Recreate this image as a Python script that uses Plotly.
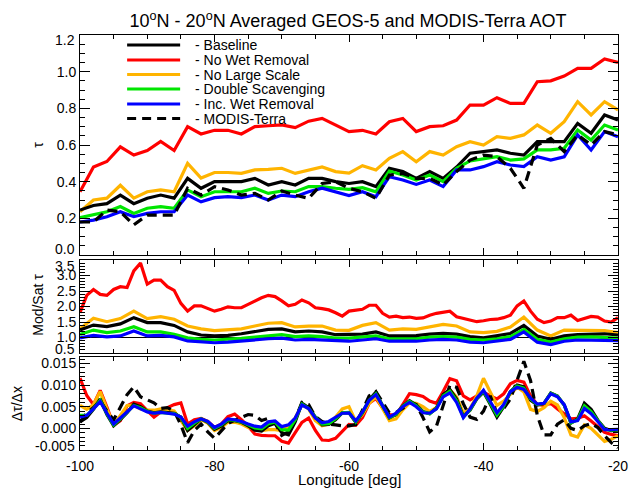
import plotly.graph_objects as go
from plotly.subplots import make_subplots

# ---------------- data ----------------
lon2 = list(range(-100, -19, 2))   # 2-degree grid (41 pts)
lon1 = list(range(-100, -19, 1))   # 1-degree grid (81 pts)

series_names = ["Baseline", "No Wet Removal", "No Large Scale",
                "Double Scavenging", "Inc. Wet Removal", "MODIS-Terra"]

# Top panel: AOT (tau) on lon2
tau_baseline = [0.245, 0.27, 0.28, 0.327, 0.28, 0.31, 0.327, 0.31, 0.418, 0.364, 0.40,
                0.40, 0.40, 0.418, 0.382, 0.40, 0.382, 0.418, 0.418, 0.40, 0.39,
                0.40, 0.373, 0.473, 0.455, 0.418, 0.455, 0.418, 0.48, 0.555, 0.564,
                0.573, 0.555, 0.545, 0.618, 0.618, 0.618, 0.718, 0.664, 0.764, 0.736]
tau_nowet = [0.345, 0.48, 0.51, 0.59, 0.545, 0.57, 0.62, 0.57, 0.70, 0.66, 0.68,
             0.68, 0.66, 0.70, 0.705, 0.71, 0.695, 0.73, 0.745, 0.71, 0.673,
             0.68, 0.66, 0.727, 0.745, 0.673, 0.70, 0.705, 0.736, 0.818, 0.818,
             0.858, 0.827, 0.827, 0.945, 0.95, 0.976, 1.018, 1.018, 1.069, 1.05]
tau_nolarge = [0.236, 0.30, 0.31, 0.38, 0.31, 0.345, 0.355, 0.345, 0.50, 0.42, 0.45,
               0.45, 0.445, 0.464, 0.467, 0.473, 0.445, 0.464, 0.48, 0.455, 0.447,
               0.487, 0.464, 0.527, 0.564, 0.509, 0.564, 0.545, 0.591, 0.618, 0.60,
               0.645, 0.636, 0.655, 0.709, 0.664, 0.727, 0.836, 0.764, 0.836, 0.791]
tau_double = [0.204, 0.218, 0.236, 0.264, 0.227, 0.255, 0.264, 0.255, 0.355, 0.318, 0.345,
              0.345, 0.345, 0.364, 0.336, 0.349, 0.345, 0.373, 0.373, 0.364, 0.358,
              0.367, 0.345, 0.458, 0.436, 0.409, 0.436, 0.40, 0.473, 0.513, 0.524,
              0.536, 0.518, 0.524, 0.573, 0.573, 0.582, 0.682, 0.627, 0.709, 0.682]
tau_incwet = [0.18, 0.19, 0.209, 0.236, 0.209, 0.227, 0.236, 0.236, 0.327, 0.29, 0.313,
              0.318, 0.313, 0.327, 0.30, 0.327, 0.318, 0.345, 0.364, 0.345, 0.324,
              0.345, 0.318, 0.427, 0.409, 0.385, 0.409, 0.373, 0.464, 0.464, 0.482,
              0.509, 0.491, 0.482, 0.536, 0.518, 0.536, 0.655, 0.573, 0.673, 0.645]
tau_modis = [0.18, 0.18, 0.245, 0.236, 0.164, 0.218, 0.218, 0.218, 0.364, 0.327, 0.373,
             0.355, 0.327, 0.336, 0.30, 0.349, 0.327, 0.309, 0.39, 0.40, 0.364,
             0.345, 0.309, 0.436, 0.445, 0.418, 0.418, 0.382, 0.455, 0.518, 0.545,
             0.536, 0.473, 0.364, 0.60, 0.636, 0.564, 0.655, 0.60, 0.673, 0.655]

# Middle panel: model / satellite ratio (red on lon1, others on lon2)
ratio_nowet = [1.80, 2.36, 2.55, 2.39, 2.36, 2.55, 2.64, 2.61, 3.15, 3.40,
               2.72, 2.85, 2.85, 2.64, 2.52, 2.10, 1.85, 2.02, 2.02, 1.94,
               1.85, 1.91, 1.99, 1.96, 1.96, 2.07, 2.18, 2.28, 2.36, 2.32,
               2.18, 2.02, 2.07, 2.21, 2.12, 1.96, 1.93, 1.89, 1.80, 1.69,
               1.85, 1.89, 1.91, 2.04, 2.04, 1.78, 1.66, 1.69, 1.64, 1.66,
               1.62, 1.63, 1.72, 1.78, 1.82, 1.85, 1.67, 1.61, 1.55, 1.51,
               1.54, 1.58, 1.59, 1.64, 1.72, 2.02, 2.18, 1.85, 1.59, 1.48,
               1.53, 1.64, 1.64, 1.72, 1.55, 1.61, 1.68, 1.66, 1.53, 1.50, 1.64]
ratio_nolarge = [1.28, 1.62, 1.51, 1.61, 1.85, 1.61, 1.67, 1.59, 1.37, 1.28, 1.22,
                 1.24, 1.28, 1.37, 1.46, 1.48, 1.34, 1.37, 1.37, 1.24, 1.23,
                 1.39, 1.48, 1.24, 1.28, 1.26, 1.33, 1.42, 1.37, 1.18, 1.16,
                 1.20, 1.34, 1.66, 1.24, 1.05, 1.24, 1.24, 1.24, 1.22, 1.16]
ratio_baseline = [1.24, 1.40, 1.35, 1.44, 1.64, 1.48, 1.48, 1.39, 1.18, 1.08, 1.05,
                  1.07, 1.12, 1.18, 1.26, 1.28, 1.18, 1.21, 1.18, 1.09, 1.09,
                  1.11, 1.18, 1.05, 1.05, 1.06, 1.11, 1.13, 1.11, 1.03, 0.99,
                  1.05, 1.13, 1.39, 1.05, 0.94, 1.05, 1.09, 1.11, 1.12, 1.08]
ratio_double = [1.10, 1.24, 1.16, 1.21, 1.35, 1.18, 1.18, 1.10, 0.99, 0.94, 0.92,
                0.94, 0.97, 1.01, 1.05, 1.09, 1.03, 1.05, 1.03, 0.98, 0.98,
                1.02, 1.05, 0.96, 0.96, 0.96, 1.01, 1.03, 1.01, 0.94, 0.92,
                0.96, 1.03, 1.26, 0.94, 0.85, 0.96, 1.01, 1.02, 1.01, 0.98]
ratio_incwet = [0.99, 1.07, 1.02, 1.05, 1.21, 1.05, 1.07, 1.02, 0.89, 0.85, 0.83,
                0.85, 0.89, 0.92, 0.96, 0.98, 0.92, 0.94, 0.92, 0.89, 0.88,
                0.92, 0.96, 0.88, 0.88, 0.88, 0.92, 0.94, 0.92, 0.85, 0.83,
                0.88, 0.94, 1.18, 0.85, 0.77, 0.88, 0.92, 0.92, 0.92, 0.90]

# Bottom panel: d(tau)/dx on lon1, in units of 1e-3 per degree
dtdx_baseline = [1.5, 2.5, 4.4, 6.8, 3.2, 0.6, 2.0, 3.6, 5.6, 5.0,
                 4.0, 3.6, 3.8, 3.6, 3.5, 2.6, -0.5, 0.8, 2.2, 1.4,
                 -0.2, 0.5, 1.8, 1.8, 1.4, 0.6, -0.4, -0.6, 0.6, 1.2,
                 -1.0, -1.5, 1.5, 5.8, 4.8, 2.6, 0.8, 0.9, 2.0, 3.6,
                 3.6, 1.4, 3.6, 6.6, 8.4, 5.2, 2.4, 3.2, 5.2, 6.4,
                 5.4, 3.9, 3.4, 4.7, 7.8, 9.0, 6.8, 2.8, 4.2, 6.8,
                 8.4, 5.6, 2.6, 5.0, 8.5, 10.0, 9.6, 6.5, 5.4, 5.8,
                 8.2, 7.5, 5.4, 1.2, 2.2, 5.8, 4.4, 1.9, 0.0, -0.5, -0.4]
dtdx_nowet = [11.6, 7.6, 5.5, 8.8, 4.9, 0.7, 1.8, 5.2, 6.0, 5.7,
              4.1, 2.6, 3.8, 4.8, 5.5, 5.9, 1.0, 2.0, 2.3, 1.6,
              0.2, 1.0, 2.7, 3.3, 2.0, 0.5, -1.3, -1.6, -1.7, -1.7,
              -3.0, -3.4, -1.0, 1.4, 2.4, -0.5, -2.7, -2.8, -2.3, -0.8,
              0.9, 0.7, 2.5, 5.8, 6.9, 4.7, 3.2, 3.0, 5.5, 8.0,
              7.8, 7.4, 6.3, 5.8, 8.5, 11.5, 11.0, 7.5, 6.6, 7.5,
              8.4, 7.5, 6.8, 8.0, 10.3, 11.1, 10.7, 7.5, 5.5, 5.3,
              5.8, 4.5, 3.3, 2.2, 2.3, 2.9, 1.7, 0.3, -0.9, -1.4, -1.7]
dtdx_nolarge = [5.3, 4.4, 5.5, 8.5, 4.5, 0.8, 3.0, 5.3, 5.4, 4.5,
                4.2, 4.2, 4.5, 4.3, 4.0, 1.8, -0.5, 0.6, 2.0, 1.2,
                -0.5, 0.2, 1.4, 1.4, 1.0, 0.2, -0.2, -0.5, -0.3, -0.3,
                -0.5, 0.4, 2.4, 5.5, 4.5, 1.8, 0.6, 1.0, 2.6, 4.5,
                5.0, 1.6, 3.2, 5.8, 7.3, 4.5, 1.8, 2.2, 4.3, 5.9,
                5.8, 5.0, 3.9, 4.8, 7.4, 8.9, 7.3, 3.6, 4.6, 7.5,
                11.6, 8.4, 5.3, 6.3, 8.0, 9.5, 8.4, 4.4, 3.9, 4.8,
                6.3, 5.4, 2.5, -1.5, -2.0, 0.8, 0.0, -1.5, -3.0, -2.5, -1.7]
dtdx_double = [3.0, 3.0, 4.5, 6.5, 3.4, 0.8, 2.2, 3.7, 5.3, 4.8,
               3.9, 3.5, 3.7, 3.5, 3.4, 2.6, 0.0, 1.2, 2.2, 1.5,
               0.0, 0.8, 2.0, 1.9, 1.5, 0.8, 0.1, -0.1, 1.1, 1.5,
               -0.3, -0.4, 2.0, 5.6, 4.6, 2.6, 1.0, 1.1, 2.2, 3.6,
               3.7, 1.5, 3.7, 6.5, 8.0, 5.2, 2.5, 3.3, 5.1, 6.2,
               5.2, 3.8, 3.4, 4.6, 7.5, 8.6, 6.4, 2.6, 4.3, 6.9,
               8.6, 5.9, 3.1, 5.2, 8.5, 9.8, 9.3, 6.8, 5.5, 5.8,
               8.1, 7.4, 5.4, 1.3, 2.0, 5.2, 3.9, 1.8, -0.2, -0.4, -0.3]
dtdx_incwet = [2.6, 3.0, 4.5, 6.2, 3.5, 1.0, 2.4, 3.8, 5.2, 4.5,
               3.8, 3.5, 3.7, 3.5, 3.3, 2.6, 0.5, 1.5, 2.2, 1.6,
               0.2, 1.0, 2.2, 2.0, 1.6, 1.0, 0.5, 0.3, 1.5, 1.7,
               0.4, 0.8, 2.4, 5.4, 4.6, 2.4, 1.3, 1.6, 2.5, 3.5,
               3.6, 1.7, 3.8, 6.5, 7.8, 5.2, 2.6, 3.5, 5.0, 6.0,
               5.0, 3.6, 3.5, 4.5, 7.3, 8.2, 6.0, 2.5, 4.5, 7.0,
               8.8, 6.2, 3.6, 5.5, 8.5, 9.5, 9.0, 7.0, 5.6, 5.8,
               8.0, 7.3, 5.5, 1.5, 1.8, 4.6, 3.4, 1.6, -0.3, -0.3, -0.2]
dtdx_modis = [1.4, 3.6, 4.8, 6.4, 4.0, 2.0, 4.9, 7.8, 9.6, 7.3,
              6.6, 5.9, 4.6, 4.8, 4.0, 0.8, -3.3, -0.5, 1.0, -0.8,
              -2.3, -0.6, 1.1, 1.9, 2.5, 3.2, 3.0, 1.8, 2.3, 1.2,
              -1.6, -0.8, 2.1, 6.0, 5.5, 2.7, 1.6, 1.0, 0.8, 0.6,
              0.6, 0.9, 4.2, 7.5, 8.5, 6.1, 3.6, 3.7, 4.6, 6.0,
              5.5, 2.5, -0.8, 0.5, 5.5, 10.0, 9.5, 5.7, 2.6, 2.1,
              4.0, 7.5, 3.5, 4.6, 6.8, 11.2, 15.5, 11.0, 3.0, -1.5,
              -1.5, 1.0, 2.0, 0.0, -0.5, 0.6, 1.1, 0.2, -1.7, -3.3, -4.5]

# tick labels
tau_ticks = [0.2, 0.4, 0.6, 0.8, 1.0]
ratio_ticks = [1.0, 1.5, 2.0, 2.5, 3.0]
dtdx_ticks = [0.0, 0.005, 0.010, 0.015]
lon_ticks = [-100, -80, -60, -40, -20]
# labels at the ends of each y-axis (nudged inside the frame, as in the original)
end_labels = [("1.2", 39.5), ("0.0", 248.5), ("3.5", 265.5), ("0.5", 348.5), ("-0.005", 446.0)]

# ---------------- styles ----------------
C_BLACK, C_RED, C_ORANGE, C_GREEN, C_BLUE = "#000000", "#ff0000", "#ffb400", "#00e600", "#0000ff"
LW = 3.2
FONT = "Liberation Sans, Arial, Helvetica, sans-serif"

fig = make_subplots(rows=3, cols=1, shared_xaxes=True, vertical_spacing=0.01)

def add(x, y, color, row, dash="solid", scale=1.0):
    fig.add_trace(go.Scatter(x=x, y=[v * scale for v in y], mode="lines",
                             line=dict(color=color, width=LW, dash=dash),
                             showlegend=False, hoverinfo="skip"), row=row, col=1)

# top
add(lon2, tau_nowet, C_RED, 1)
add(lon2, tau_nolarge, C_ORANGE, 1)
add(lon2, tau_baseline, C_BLACK, 1)
add(lon2, tau_double, C_GREEN, 1)
add(lon2, tau_incwet, C_BLUE, 1)
add(lon2, tau_modis, C_BLACK, 1, dash="10px,6px")
# middle
add(lon1, ratio_nowet, C_RED, 2)
add(lon2, ratio_nolarge, C_ORANGE, 2)
add(lon2, ratio_baseline, C_BLACK, 2)
add(lon2, ratio_double, C_GREEN, 2)
add(lon2, ratio_incwet, C_BLUE, 2)
# bottom
add(lon1, dtdx_nowet, C_RED, 3, scale=1e-3)
add(lon1, dtdx_nolarge, C_ORANGE, 3, scale=1e-3)
add(lon1, dtdx_baseline, C_BLACK, 3, scale=1e-3)
add(lon1, dtdx_modis, C_BLACK, 3, dash="10px,6px", scale=1e-3)
add(lon1, dtdx_double, C_GREEN, 3, scale=1e-3)
add(lon1, dtdx_incwet, C_BLUE, 3, scale=1e-3)

W, H = 638, 489
L, R, T, B = 80, 10, 35, 39
PH = H - T - B  # 415
PW = W - L - R  # 548

def py2paper(py):
    return (H - B - py) / PH

def px2paper(px):
    return (px - L) / PW

TICKFONT = dict(family=FONT, size=14, color="black")
axis_common = dict(showline=True, linecolor="black", linewidth=1, mirror="ticks",
                   ticks="inside", tickcolor="black", showgrid=False, zeroline=False,
                   tickfont=TICKFONT, ticklabeloverflow="allow")

xcommon = dict(axis_common, range=[-100, -20], tickmode="array", tickvals=lon_ticks,
               ticktext=[str(v) for v in lon_ticks], ticklen=7,
               minor=dict(dtick=5, tick0=-100, ticks="inside", ticklen=4, tickcolor="black"))
fig.update_xaxes(**xcommon)
fig.update_xaxes(showticklabels=False, row=1, col=1)
fig.update_xaxes(showticklabels=False, row=2, col=1)
fig.update_xaxes(showticklabels=True, ticklabelstandoff=3, row=3, col=1)

fig.update_yaxes(axis_common, row=1, col=1)
fig.update_yaxes(range=[0, 1.2], tickmode="array", tickvals=tau_ticks,
                 ticktext=[f"{v:.1f}" for v in tau_ticks], ticklen=10,
                 minor=dict(dtick=0.05, tick0=0, ticks="inside", ticklen=5, tickcolor="black"),
                 domain=[py2paper(255), 1.0], row=1, col=1)
fig.update_yaxes(axis_common, row=2, col=1)
fig.update_yaxes(range=[0.5, 3.5], tickmode="array", tickvals=ratio_ticks,
                 ticktext=[f"{v:.1f}" for v in ratio_ticks], ticklen=10,
                 minor=dict(dtick=0.1, tick0=0.5, ticks="inside", ticklen=5, tickcolor="black"),
                 domain=[py2paper(353), py2paper(260)], row=2, col=1)
fig.update_yaxes(axis_common, row=3, col=1)
fig.update_yaxes(range=[-0.005, 0.0165], tickmode="array", tickvals=dtdx_ticks,
                 ticktext=[f"{v:.3f}" for v in dtdx_ticks], ticklen=10,
                 minor=dict(dtick=0.001, tick0=0, ticks="inside", ticklen=5, tickcolor="black"),
                 domain=[0.0, py2paper(357)], row=3, col=1)

shapes = [dict(type="line", xref="paper", x0=0, x1=1, yref="y2", y0=1.0, y1=1.0,
               line=dict(color="black", width=1), layer="below")]
annotations = []

# manual legend (IDL style)
leg_colors = [C_BLACK, C_RED, C_ORANGE, C_GREEN, C_BLUE, C_BLACK]
leg_dash = ["solid"] * 5 + ["9px,6px"]
leg_y = [45, 60, 74.5, 89, 104, 118.5]
for name, col, dsh, yy in zip(series_names, leg_colors, leg_dash, leg_y):
    shapes.append(dict(type="line", xref="paper", yref="paper",
                       x0=px2paper(128), x1=px2paper(182), y0=py2paper(yy), y1=py2paper(yy),
                       line=dict(color=col, width=3, dash=dsh)))
    annotations.append(dict(text="- " + name, xref="paper", yref="paper",
                            x=px2paper(195), y=py2paper(yy), xanchor="left", yanchor="middle",
                            showarrow=False, font=dict(family=FONT, size=14, color="black")))

# end-of-axis tick labels
for txt, yy in end_labels:
    annotations.append(dict(text=txt, xref="paper", yref="paper", x=px2paper(76.5), y=py2paper(yy),
                            xanchor="right", yanchor="middle", showarrow=False, font=TICKFONT))

# y-axis titles
for txt, yy, xx in [("τ", 145, 37), ("Mod/Sat τ", 305, 37), ("Δτ/Δx", 404, 16)]:
    annotations.append(dict(text=txt, xref="paper", yref="paper", x=px2paper(xx), y=py2paper(yy),
                            xanchor="center", yanchor="middle", textangle=-90, showarrow=False,
                            font=dict(family=FONT, size=14, color="black")))
# x-axis title
annotations.append(dict(text="Longitude [deg]", xref="paper", yref="paper",
                        x=px2paper(354), y=py2paper(479), xanchor="center", yanchor="middle",
                        showarrow=False, font=dict(family=FONT, size=15, color="black")))

fig.update_layout(
    width=W, height=H, margin=dict(l=L, r=R, t=T, b=B),
    paper_bgcolor="white", plot_bgcolor="white",
    title=dict(text="10<sup>o</sup>N - 20<sup>o</sup>N Averaged GEOS-5 and MODIS-Terra AOT",
               x=px2paper(353), xref="paper", xanchor="center",
               y=1 - 21 / H, yref="container", yanchor="middle",
               font=dict(family=FONT, size=18, color="black")),
    shapes=shapes, annotations=annotations, showlegend=False,
)

fig.write_html("out.html")
